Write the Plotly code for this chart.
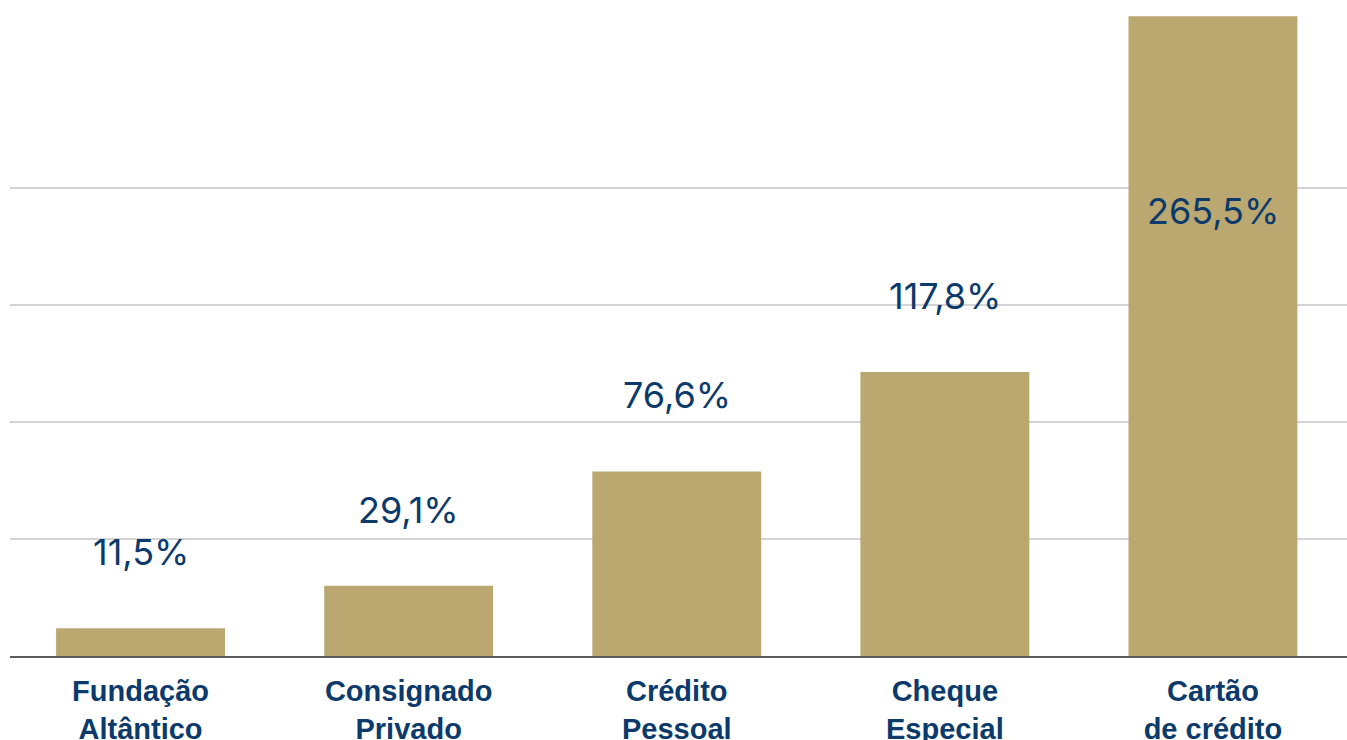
import plotly.graph_objects as go

categories = ["Fundação<br>Altântico", "Consignado<br>Privado", "Crédito<br>Pessoal",
              "Cheque<br>Especial", "Cartão<br>de crédito"]
values = [11.5, 29.1, 76.6, 117.8, 265.5]
value_labels = ["11,5%", "29,1%", "76,6%", "117,8%", "265,5%"]

BAR = "#bba870"
NAVY = "#0b3a6b"
GRID_STEP = 48.5

xs = list(range(len(categories)))

fig = go.Figure()
fig.add_trace(go.Bar(
    x=xs, y=values, width=0.63, marker=dict(color=BAR, line=dict(width=0)),
    hoverinfo="skip", showlegend=False,
))

for i, (v, t) in enumerate(zip(values, value_labels)):
    last = i == len(values) - 1
    fig.add_annotation(
        x=i, y=v, text=t, showarrow=False, xanchor="center", yanchor="middle",
        yshift=-195 if last else 76,
        font=dict(family="Inter", size=36, color=NAVY),
    )

fig.update_layout(
    width=1347, height=740,
    margin=dict(l=10, r=0, t=0, b=84),
    paper_bgcolor="white", plot_bgcolor="white",
    xaxis=dict(
        range=[-0.487, 4.5], tickvals=xs, ticktext=categories,
        showgrid=False, zeroline=False, automargin=False,
        showline=True, linecolor="#5b5b5b", linewidth=2,
        ticks="", ticklabelstandoff=8,
        tickfont=dict(family="Liberation Sans", size=29, color=NAVY, weight="bold"),
        fixedrange=True,
    ),
    yaxis=dict(
        range=[0, 272.2], automargin=False,
        tickvals=[GRID_STEP * k for k in range(1, 5)],
        showticklabels=False, showgrid=True, gridcolor="#d4d4d4", gridwidth=2,
        zeroline=False, showline=False, fixedrange=True,
    ),
    bargap=0.37,
)

fig.write_html("out.html")
